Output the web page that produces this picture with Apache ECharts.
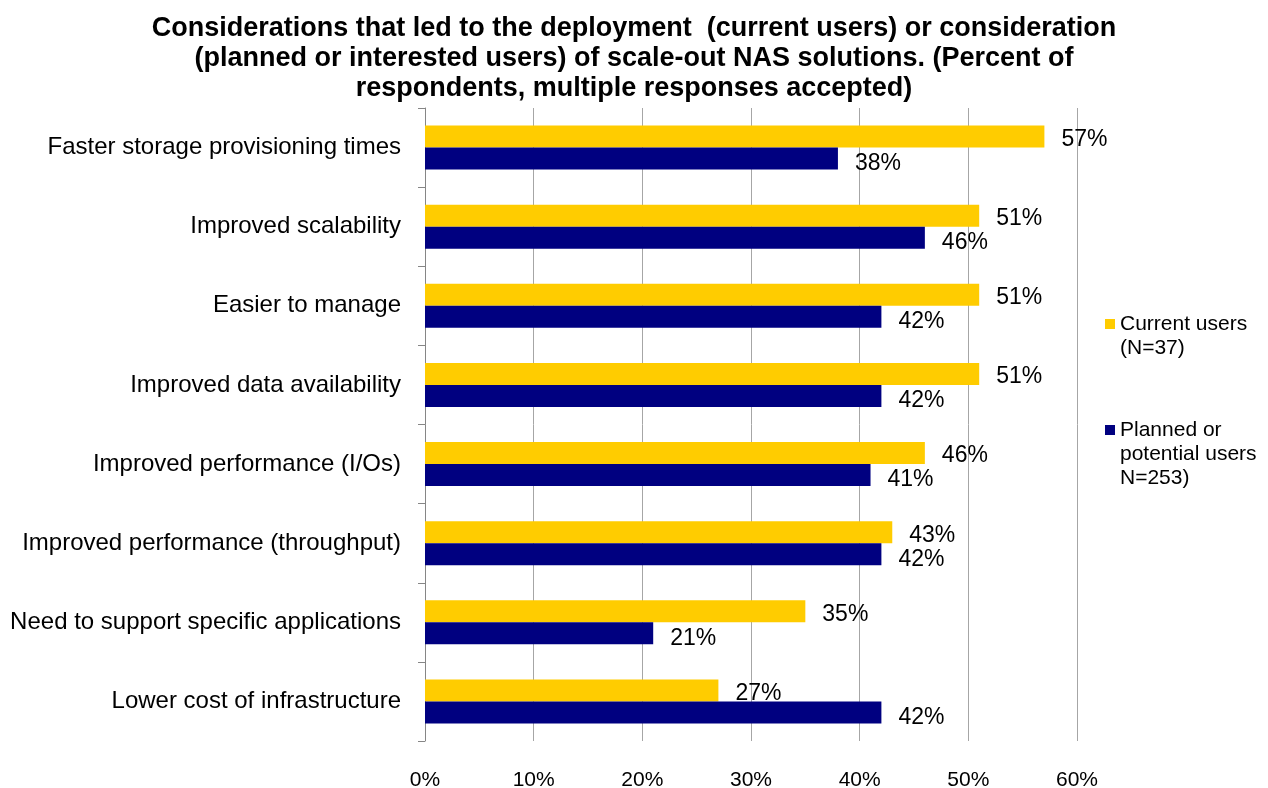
<!DOCTYPE html>
<html><head><meta charset="utf-8">
<script src="https://cdn.jsdelivr.net/npm/echarts@6/dist/echarts.min.js"></script>
<style>html,body{margin:0;padding:0;background:#fff}#c{width:1268px;height:788px}</style>
</head><body><div id="c"></div>
<script>
const categories = [
  'Faster storage provisioning times',
  'Improved scalability',
  'Easier to manage',
  'Improved data availability',
  'Improved performance (I/Os)',
  'Improved performance (throughput)',
  'Need to support specific applications',
  'Lower cost of infrastructure'
];
const currentUsers = [57, 51, 51, 51, 46, 43, 35, 27];
const plannedUsers = [38, 46, 42, 42, 41, 42, 21, 42];
const seriesNames = ['Current users\n(N=37)', 'Planned or\npotential users\nN=253)'];
const xTicks = [0, 10, 20, 30, 40, 50, 60];

const FONT = '"Liberation Sans", Arial, sans-serif';
const chart = echarts.init(document.getElementById('c'));
function labelCfg(dy) {
  return {show: true, position: 'right', distance: 17, offset: [0, dy], formatter: '{c}%', fontSize: 23, color: '#000', fontFamily: FONT};
}
chart.setOption({
  animation: false,
  textStyle: {fontFamily: FONT},
  title: {
    text: 'Considerations that led to the deployment  (current users) or consideration\n(planned or interested users) of scale-out NAS solutions. (Percent of\nrespondents, multiple responses accepted)',
    left: 'center', top: 9,
    textStyle: {fontSize: 27, fontWeight: 'bold', color: '#000', lineHeight: 30, fontFamily: FONT}
  },
  legend: {
    data: seriesNames,
    left: 1105, top: 288, padding: 0, orient: 'vertical', itemWidth: 10, itemHeight: 10, itemGap: 10,
    icon: 'rect',
    formatter: function (name) {
      const n = name.split('\n').length;
      return '\n'.repeat(n - 1) + name;
    },
    textStyle: {fontSize: 21, color: '#000', lineHeight: 24, fontFamily: FONT}
  },
  grid: {left: 425, right: 191, top: 108, bottom: 47, containLabel: false, outerBoundsMode: 'none'},
  xAxis: {
    type: 'value', min: xTicks[0], max: xTicks[xTicks.length - 1], interval: 10,
    axisLine: {show: false}, axisTick: {show: false},
    splitLine: {show: true, lineStyle: {color: '#a6a6a6', width: 1}},
    axisLabel: {formatter: '{value}%', fontSize: 21, color: '#000', margin: 29, fontFamily: FONT}
  },
  yAxis: {
    type: 'category', data: categories, inverse: true,
    axisLine: {show: true, lineStyle: {color: '#868686', width: 1}},
    axisTick: {show: true, length: 7, inside: false, lineStyle: {color: '#868686'}},
    axisLabel: {fontSize: 24, color: '#000', margin: 24, padding: [8, 0, 0, 0], fontFamily: FONT}
  },
  series: [{
    name: seriesNames[0], type: 'bar', data: currentUsers, barWidth: 22, barGap: '0%',
    itemStyle: {color: '#FFCC00'}, label: labelCfg(3)
  }, {
    name: seriesNames[1], type: 'bar', data: plannedUsers, barWidth: 22, barGap: '0%',
    itemStyle: {color: '#000080'}, label: labelCfg(5)
  }]
});
</script></body></html>
